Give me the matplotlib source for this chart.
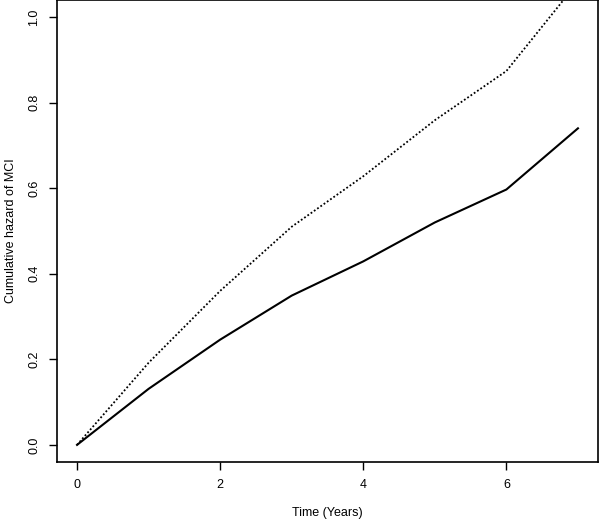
import matplotlib
matplotlib.use("Agg")
import matplotlib.pyplot as plt

years = [0, 1, 2, 3, 4, 5, 6, 7]
hazard_solid = [0.0, 0.131, 0.246, 0.349, 0.429, 0.52, 0.597, 0.74]
hazard_dotted = [0.0, 0.192, 0.36, 0.51, 0.628, 0.759, 0.874, 1.082]
xticks = [0, 2, 4, 6]
yticks = [0.0, 0.2, 0.4, 0.6, 0.8, 1.0]

plt.rcParams['font.family'] = ['Liberation Sans', 'DejaVu Sans']
fig = plt.figure(figsize=(6, 5.21), dpi=100)
ax = fig.add_axes([57/600, 1 - 462/521, (598-57)/600, 462/521])

ax.plot(years, hazard_solid, color='black', lw=1.5, ls='-')
ax.plot(years, hazard_dotted, color='black', lw=1.3, ls=(0, (1, 1.2)))

ax.set_xlim(-0.28, 7.28)
ax.set_ylim(-0.04, 1.04)
ax.set_xticks(xticks)
ax.set_xticklabels([str(t) for t in xticks], fontsize=9)
ax.set_yticks(yticks)
ax.set_yticklabels([f"{t:.1f}" for t in yticks], fontsize=9, rotation=90, va='center')
ax.tick_params(length=6, width=1, pad=6)
for s in ax.spines.values():
    s.set_linewidth(1.2)
ax.set_xlabel("Time (Years)", fontsize=9, labelpad=12)
ax.set_ylabel("Cumulative hazard of MCI", fontsize=9, labelpad=8)

fig.savefig("out.png", dpi=100)
